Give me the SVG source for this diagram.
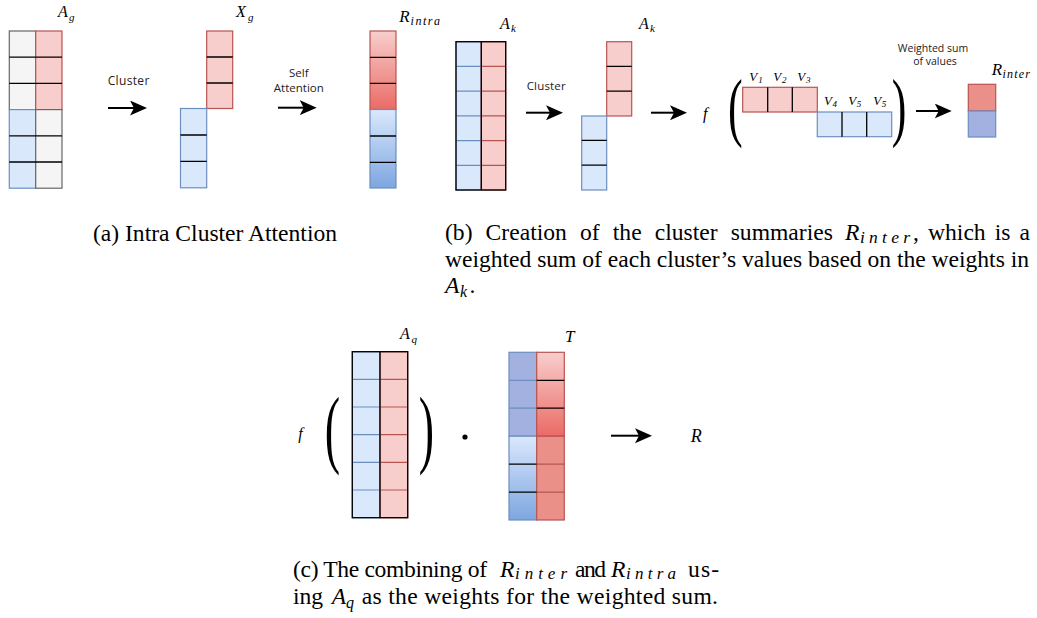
<svg xmlns="http://www.w3.org/2000/svg" width="1037" height="618" viewBox="0 0 1037 618">
<defs>
<linearGradient id="gRed" x1="0" y1="0" x2="0" y2="1"><stop offset="0" stop-color="#f8cecc"/><stop offset="1" stop-color="#ea6b66"/></linearGradient>
<linearGradient id="gBlue" x1="0" y1="0" x2="0" y2="1"><stop offset="0" stop-color="#dae8fc"/><stop offset="1" stop-color="#7ea6e0"/></linearGradient>
<marker id="ah" markerUnits="userSpaceOnUse" markerWidth="18" markerHeight="16" refX="5" refY="7.5" orient="auto" viewBox="0 0 18 16">
<path d="M0,0 L17,7.5 L0,15 L4,7.5 Z" fill="#000"/>
</marker>
</defs>
<style>
.gray{fill:#f5f5f5;stroke:#666666;stroke-width:1.2}
.red{fill:#f8cecc;stroke:#b85450;stroke-width:1.2}
.blue{fill:#dae8fc;stroke:#6c8ebf;stroke-width:1.2}
.rg{fill:url(#gRed);stroke:#b85450;stroke-width:1.2}
.bg{fill:url(#gBlue);stroke:#6c8ebf;stroke-width:1.2}
.rd{fill:#ea9088;stroke:#b85450;stroke-width:1.2}
.bd{fill:#a3b1e1;stroke:#6c8ebf;stroke-width:1.2}
.sep{stroke:#000;stroke-width:1.3;fill:none}
.sepR{stroke:#b85450;stroke-width:1.2;fill:none}
.sepB{stroke:#6c8ebf;stroke-width:1.2;fill:none}
.frame{fill:none;stroke:#000;stroke-width:1.3}
.arr{stroke:#000;stroke-width:2;fill:none;marker-end:url(#ah)}
.lbl{font-family:"Open Sans","Liberation Sans",sans-serif;fill:#222}
.m{font-family:"Liberation Serif","DejaVu Serif",serif;font-style:italic;fill:#000}
.cap{font-family:"Liberation Serif","DejaVu Serif",serif;font-size:23.6px;fill:#000}
.par{font-family:"Liberation Serif","DejaVu Serif",serif;fill:#000}
</style>

<!-- (a) -->
<g id="Ag">
<rect class="gray" x="9.3" y="31" width="26.4" height="78.6"/>
<rect class="red" x="35.7" y="31" width="26.3" height="78.6"/>
<rect class="blue" x="9.3" y="109.6" width="26.4" height="78.6"/>
<rect class="gray" x="35.7" y="109.6" width="26.3" height="78.6"/>
<path class="sep" d="M9.3,57.2H62M9.3,83.4H62M9.3,135.8H62M9.3,162H62"/>
<text class="m" x="58" y="17" font-size="16">A</text><text class="m" x="69" y="20.5" font-size="11">g</text>
</g>
<g id="Xg">
<rect class="red" x="206.7" y="31" width="26" height="77.5"/>
<rect class="blue" x="180.5" y="108.5" width="26.2" height="79.3"/>
<path class="sep" d="M206.7,57H232.7M206.7,83H232.7M180.5,135H206.7M180.5,161.3H206.7"/>
<text class="m" x="236" y="17" font-size="16">X</text><text class="m" x="248" y="20.5" font-size="11">g</text>
</g>
<g id="Rintra">
<rect class="rg" x="370" y="31" width="26" height="78.5"/>
<rect class="bg" x="370" y="109.5" width="26" height="78.5"/>
<path class="sep" d="M370,57.3H396M370,83.3H396M370,136H396M370,162.3H396"/>
<text class="m" x="399.3" y="21.5" font-size="17">R</text><text class="m" x="410.5" y="24.5" font-size="12" textLength="29.5" lengthAdjust="spacing">intra</text>
</g>
<g id="labelsA">
<text class="lbl" x="107.7" y="84.7" font-size="12" textLength="41.6">Cluster</text>
<text class="lbl" x="298.8" y="77.3" font-size="11.5" text-anchor="middle">Self</text>
<text class="lbl" x="298.8" y="91.7" font-size="11.5" text-anchor="middle">Attention</text>
</g>

<!-- (b) -->
<g id="Ak">
<rect class="blue" x="456" y="41.7" width="25.3" height="148.3"/>
<rect class="red" x="481.3" y="41.7" width="24.4" height="148.3"/>
<path class="sepB" d="M456,66.4H481.3M456,91.1H481.3M456,115.9H481.3M456,140.6H481.3M456,165.3H481.3"/>
<path class="sepR" d="M481.3,66.4H505.7M481.3,91.1H505.7M481.3,115.9H505.7M481.3,140.6H505.7M481.3,165.3H505.7"/>
<rect class="frame" x="456" y="41.7" width="49.7" height="148.3"/>
<path class="sep" d="M481.3,41.7V190"/>
<text class="m" x="500" y="29.3" font-size="16">A</text><text class="m" x="511" y="32" font-size="11">k</text>
</g>
<g id="AkClustered">
<rect class="red" x="606.7" y="41.7" width="25" height="74.3"/>
<rect class="blue" x="581.7" y="116" width="25" height="74"/>
<path class="sep" d="M606.7,66.4H631.7M606.7,91.1H631.7M581.7,140.4H606.7M581.7,165.2H606.7"/>
<text class="m" x="639" y="29.3" font-size="16">A</text><text class="m" x="650" y="32" font-size="11">k</text>
</g>
<g id="fValues">
<text class="m" x="703" y="118.5" font-size="16">f</text>
<text class="par" transform="translate(728,131.5) scale(1,1.73)" font-size="44">(</text>
<text class="par" transform="translate(891.7,131.5) scale(1,1.73)" font-size="44">)</text>
<rect class="red" x="742.7" y="87.3" width="74.6" height="24.7"/>
<rect class="blue" x="817.3" y="112" width="74.4" height="24.7"/>
<path class="sep" d="M767.7,87.3V112M792.3,87.3V112M842,112V136.7M866.7,112V136.7"/>
<text class="m" x="749.3" y="80.7" font-size="13">V</text><text class="m" x="758.3" y="83" font-size="9">1</text>
<text class="m" x="773.3" y="80.7" font-size="13">V</text><text class="m" x="782" y="83" font-size="9">2</text>
<text class="m" x="797.3" y="80.7" font-size="13">V</text><text class="m" x="806" y="83" font-size="9">3</text>
<text class="m" x="824" y="105" font-size="13">V</text><text class="m" x="832.5" y="107.3" font-size="9">4</text>
<text class="m" x="848.3" y="105" font-size="13">V</text><text class="m" x="856.8" y="107.3" font-size="9">5</text>
<text class="m" x="873.3" y="105" font-size="13">V</text><text class="m" x="881.8" y="107.3" font-size="9">5</text>
</g>
<g id="Rinter">
<rect class="rd" x="968.3" y="84.3" width="27.4" height="26.7"/>
<rect class="bd" x="968.3" y="111" width="27.4" height="26"/>
<text class="m" x="991.7" y="75" font-size="17">R</text><text class="m" x="1002.5" y="78" font-size="12" textLength="27.5" lengthAdjust="spacing">inter</text>
</g>
<g id="labelsB">
<text class="lbl" x="526.7" y="90" font-size="11.5" textLength="39">Cluster</text>
<text class="lbl" x="933" y="51.7" font-size="10.5" text-anchor="middle">Weighted sum</text>
<text class="lbl" x="935" y="65" font-size="10.5" text-anchor="middle">of values</text>
</g>

<!-- (c) -->
<g id="Aq">
<text class="m" x="298.3" y="439" font-size="16">f</text>
<text class="par" transform="translate(324.8,456.6) scale(1,1.886)" font-size="46">(</text>
<text class="par" transform="translate(418.7,456.6) scale(1,1.886)" font-size="46">)</text>
<rect class="blue" x="352.3" y="351.7" width="27.7" height="166"/>
<rect class="red" x="380" y="351.7" width="27.7" height="166"/>
<path class="sepB" d="M352.3,379.4H380M352.3,407H380M352.3,434.7H380M352.3,462.4H380M352.3,490H380"/>
<path class="sepR" d="M380,379.4H407.7M380,407H407.7M380,434.7H407.7M380,462.4H407.7M380,490H407.7"/>
<rect class="frame" x="352.3" y="351.7" width="55.4" height="166"/>
<path class="sep" d="M380,351.7V517.7"/>
<text class="m" x="400" y="339.3" font-size="16">A</text><text class="m" x="411.5" y="342.5" font-size="11">q</text>
</g>
<circle id="dot" cx="465" cy="437" r="2.6" fill="#000"/>
<g id="T">
<rect class="bd" x="509" y="352.3" width="27.7" height="83.9"/>
<path class="sepB" d="M509,380.3H536.7M509,408.2H536.7"/>
<rect class="bg" x="509" y="436.2" width="27.7" height="83.8"/>
<rect class="rg" x="536.7" y="352.3" width="27.6" height="83.9"/>
<rect class="rd" x="536.7" y="436.2" width="27.6" height="83.8"/>
<path class="sepR" d="M536.7,464.1H564.3M536.7,492.1H564.3"/>
<path class="sep" d="M536.7,380.3H564.3M536.7,408.2H564.3M509,464.1H536.7M509,492.1H536.7"/>
<text class="m" x="565" y="341.7" font-size="17">T</text>
</g>
<g id="R">
<text class="m" x="690.7" y="442.3" font-size="18">R</text>
</g>

<!-- connectors -->
<g id="connectors">
<path class="arr" d="M108,108H135"/>
<path class="arr" d="M278,107.7H304.7"/>
<path class="arr" d="M526,112.7H551"/>
<path class="arr" d="M651,112.7H675"/>
<path class="arr" d="M916,111H939.7"/>
<path class="arr" d="M611,435.7H640"/>
</g>

<!-- captions -->
<g id="captionA">
<text class="cap" x="93" y="241" textLength="244" lengthAdjust="spacing">(a) Intra Cluster Attention</text>
</g>
<g id="captionB">
<text class="cap" y="240"><tspan x="445">(b)</tspan><tspan x="485.6">Creation</tspan><tspan x="580">of</tspan><tspan x="612.8">the</tspan><tspan x="654.7">cluster</tspan><tspan x="730.7">summaries</tspan></text>
<text class="m" x="845" y="240" font-size="23.6">R</text><text class="m" x="860" y="242.5" font-size="17.5" textLength="50" lengthAdjust="spacing">inter</text>
<text class="cap" y="240"><tspan x="913">,</tspan><tspan x="928">which</tspan><tspan x="994.8">is</tspan><tspan x="1019.5">a</tspan></text>
<text class="cap" x="445" y="266.5" textLength="584" lengthAdjust="spacing">weighted sum of each cluster’s values based on the weights in</text>
<text class="m" x="445" y="293" font-size="23.6">A</text><text class="m" x="460" y="296.5" font-size="16">k</text><text class="cap" x="469.5" y="293">.</text>
</g>
<g id="captionC">
<text class="cap" x="293" y="577" textLength="194" lengthAdjust="spacing">(c) The combining of</text>
<text class="m" x="500" y="577" font-size="23.6">R</text><text class="m" x="515" y="579" font-size="17" textLength="52" lengthAdjust="spacing">inter</text>
<text class="cap" x="575" y="577" textLength="31" lengthAdjust="spacing">and</text>
<text class="m" x="611" y="577" font-size="23.6">R</text><text class="m" x="626" y="579" font-size="17" textLength="50" lengthAdjust="spacing">intra</text>
<text class="cap" x="688" y="577" textLength="31" lengthAdjust="spacing">us-</text>
<text class="cap" x="293" y="604">ing</text>
<text class="m" x="331.7" y="604" font-size="23.6">A</text><text class="m" x="346" y="607.5" font-size="16">q</text>
<text class="cap" x="361.7" y="604" textLength="356.3" lengthAdjust="spacing">as the weights for the weighted sum.</text>
</g>
</svg>
